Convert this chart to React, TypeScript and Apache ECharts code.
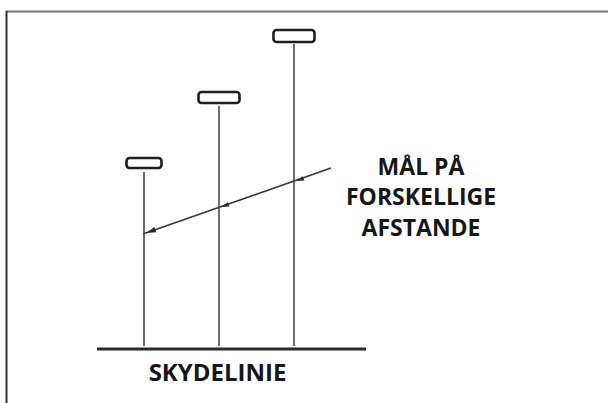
import React, { useEffect, useRef } from "react";
import * as echarts from "echarts";

// Diagram data (x = distance along the range, y = height above page bottom)
const targetLabels = ["Mål 1", "Mål 2", "Mål 3"];
const poleDistance = [144, 219, 294];
const poleTopHeight = [231, 297, 359];
const signHeight = [240, 305.5, 367];
const groundHeight = 57;
const firingLine = [
  [97, 54],
  [366, 54],
];
const sightLine = [
  [143, 169],
  [331, 235],
];
const arrowTips = [
  [146, 170],
  [221, 196],
  [296, 222],
];
const rightLabelLines = ["MÅL PÅ", "FORSKELLIGE", "AFSTANDE"];
const bottomLabel = "SKYDELINIE";

export default function App() {
  const ref = useRef<HTMLDivElement>(null);
  useEffect(() => {
    if (!ref.current) return;
    const chart = echarts.init(ref.current, null, { renderer: "svg" });
    const signW = [35, 41, 41];
    const signH = [10, 11, 12];
    const font = (s: number) => `bold ${s}px "Open Sans", sans-serif`;
    chart.setOption({
      animation: false,
      backgroundColor: "#ffffff",
      grid: { left: 0, right: 0, top: 0, bottom: 0 },
      xAxis: { type: "value", min: 0, max: 608, show: false },
      yAxis: { type: "value", min: 0, max: 403, show: false },
      series: [
        {
          type: "line",
          name: "Skydelinie",
          data: firingLine,
          symbol: "none",
          lineStyle: { color: "#2a2a2a", width: 3 },
          z: 2,
        },
        {
          type: "custom",
          name: "Stænger",
          data: poleDistance.map((d, i) => [d, groundHeight, poleTopHeight[i]]),
          renderItem: (params: any, api: any) => {
            const a = api.coord([api.value(0), api.value(1)]);
            const b = api.coord([api.value(0), api.value(2)]);
            return {
              type: "line",
              shape: { x1: a[0], y1: a[1], x2: b[0], y2: b[1] },
              style: { stroke: "#4a4a4a", lineWidth: 1.6 },
            };
          },
          z: 2,
        },
        {
          type: "custom",
          name: "Mål",
          data: poleDistance.map((d, i) => ({ name: targetLabels[i], value: [d, signHeight[i]] })),
          renderItem: (params: any, api: any) => {
            const c = api.coord([api.value(0), api.value(1)]);
            const w = signW[params.dataIndex];
            const h = signH[params.dataIndex];
            return {
              type: "rect",
              shape: { x: c[0] - w / 2, y: c[1] - h / 2, width: w, height: h, r: 3 },
              style: { fill: "#ffffff", stroke: "#1e1e1e", lineWidth: 2.6 },
            };
          },
          z: 3,
        },
        {
          type: "line",
          name: "Sigtelinie",
          data: sightLine,
          symbol: "none",
          lineStyle: { color: "#3a3a3a", width: 1.7 },
          z: 4,
        },
        {
          type: "custom",
          name: "Pile",
          data: arrowTips,
          renderItem: (params: any, api: any) => {
            const tip = api.coord([api.value(0), api.value(1)]);
            const p0 = api.coord(sightLine[0]);
            const p1 = api.coord(sightLine[1]);
            const dx = p1[0] - p0[0];
            const dy = p1[1] - p0[1];
            const len = Math.sqrt(dx * dx + dy * dy);
            const ux = dx / len;
            const uy = dy / len;
            const L = params.dataIndex === 0 ? 10 : 8;
            const W = params.dataIndex === 0 ? 2.8 : 2.2;
            const bx = tip[0] + ux * L;
            const by = tip[1] + uy * L;
            return {
              type: "polygon",
              shape: {
                points: [
                  [tip[0], tip[1]],
                  [bx - uy * W, by + ux * W],
                  [bx + uy * W, by - ux * W],
                ],
              },
              style: { fill: "#2a2a2a" },
            };
          },
          z: 5,
        },
      ],
      graphic: [
        {
          type: "line",
          shape: { x1: 6, y1: 11.5, x2: 608, y2: 11.5 },
          style: { stroke: "#777777", lineWidth: 2 },
        },
        {
          type: "line",
          shape: { x1: 6.5, y1: 11, x2: 6.5, y2: 403 },
          style: { stroke: "#333333", lineWidth: 2 },
        },
        ...rightLabelLines.map((t, i) => ({
          type: "text",
          x: 421,
          y: 165.5 + i * 30.5,
          style: {
            text: t,
            font: font(23),
            fill: "#161616",
            textAlign: "center",
            textVerticalAlign: "middle",
          },
        })),
        {
          type: "text",
          x: 217.5,
          y: 371.5,
          style: {
            text: bottomLabel,
            font: font(24),
            fill: "#161616",
            textAlign: "center",
            textVerticalAlign: "middle",
          },
        },
      ],
    });
    return () => chart.dispose();
  }, []);
  return (
    <div
      ref={ref}
      style={{ position: "absolute", left: 0, top: 0, width: 608, height: 403 }}
    />
  );
}
